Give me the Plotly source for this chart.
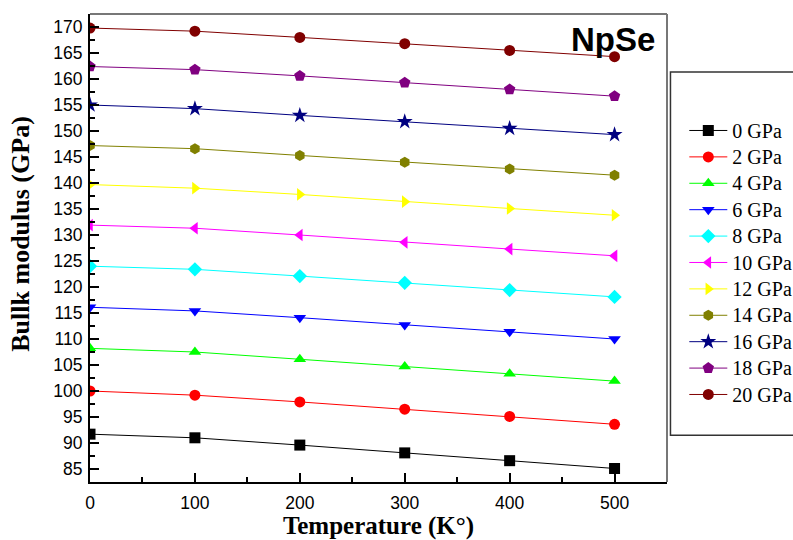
import plotly.graph_objects as go

temperature = [0, 100, 200, 300, 400, 500]
pressures = ["0 GPa", "2 GPa", "4 GPa", "6 GPa", "8 GPa", "10 GPa",
             "12 GPa", "14 GPa", "16 GPa", "18 GPa", "20 GPa"]
b_0 = [91.7, 91.0, 89.6, 88.1, 86.6, 85.1]
b_2 = [100.0, 99.2, 97.9, 96.5, 95.1, 93.6]
b_4 = [108.2, 107.5, 106.1, 104.7, 103.3, 101.9]
b_6 = [116.1, 115.4, 114.1, 112.7, 111.4, 110.0]
b_8 = [124.0, 123.4, 122.1, 120.8, 119.4, 118.1]
b_10 = [131.9, 131.3, 130.0, 128.6, 127.3, 126.0]
b_12 = [139.7, 139.0, 137.8, 136.4, 135.1, 133.8]
b_14 = [147.2, 146.6, 145.3, 144.0, 142.7, 141.5]
b_16 = [155.0, 154.3, 153.0, 151.8, 150.5, 149.3]
b_18 = [162.4, 161.8, 160.6, 159.3, 158.0, 156.7]
b_20 = [169.8, 169.2, 168.0, 166.8, 165.5, 164.3]
series = [b_0, b_2, b_4, b_6, b_8, b_10, b_12, b_14, b_16, b_18, b_20]

colors = ["#000000", "#ff0000", "#00ff00", "#0000ff", "#00ffff", "#ff00ff",
          "#ffff00", "#808000", "#000080", "#800080", "#800000"]
symbols = ["square", "circle", "triangle-up", "triangle-down", "diamond",
           "triangle-left", "triangle-right", "hexagon", "star", "pentagon", "circle"]
sizes = [11, 11, 11, 11, 11, 11, 11, 11, 12, 12, 11]

fig = go.Figure()
for name, vals, c, s, sz in zip(pressures, series, colors, symbols, sizes):
    fig.add_trace(go.Scatter(
        x=temperature, y=vals, name=f'<span style="font-size:20px">{name}</span>',
        mode="lines+markers",
        line=dict(color=c, width=1),
        marker=dict(symbol=s, size=sz, color=c, line=dict(width=0)),
    ))

tick_font = dict(family="Liberation Sans, Arial", size=17.5, color="black")
fig.update_layout(
    width=793, height=540,
    margin=dict(l=90, r=126, t=14, b=58, autoexpand=False),
    paper_bgcolor="white", plot_bgcolor="white",
    showlegend=True,
    legend=dict(x=1.03, xanchor="left", y=0.79, yanchor="top",
                bgcolor="rgba(0,0,0,0)", borderwidth=0, itemwidth=38,
                font=dict(family="Liberation Serif, Times New Roman", size=18, color="black"),
                tracegroupgap=0),
    xaxis=dict(range=[0, 550], tickvals=[0, 100, 200, 300, 400, 500],
               showgrid=False, zeroline=False, showline=True, linecolor="black", linewidth=2,
               ticks="inside", ticklen=9, tickwidth=1.5, tickcolor="black",
               minor=dict(dtick=50, tick0=0, ticks="inside", ticklen=5, tickwidth=1.5, tickcolor="black"),
               tickfont=tick_font, ticklabelstandoff=4,
               title=dict(text="Temperature (K°)", standoff=3,
                          font=dict(family="Liberation Serif, Times New Roman", size=25, color="black", weight="bold"))),
    yaxis=dict(range=[82.5, 172.5], dtick=5, tick0=85,
               showgrid=False, zeroline=False, showline=True, linecolor="black", linewidth=2,
               ticks="inside", ticklen=9, tickwidth=1.5, tickcolor="black",
               minor=dict(dtick=2.5, tick0=82.5, ticks="inside", ticklen=5, tickwidth=1.5, tickcolor="black"),
               tickfont=tick_font, ticklabelstandoff=2),
    shapes=[
        dict(type="line", xref="paper", yref="paper", x0=0, x1=1, y0=1, y1=1,
             line=dict(color="#777777", width=2)),
        dict(type="line", xref="paper", yref="paper", x0=1, x1=1, y0=0, y1=1,
             line=dict(color="#777777", width=2)),
        dict(type="rect", xref="paper", yref="paper", x0=1.006, x1=1.3, y0=0.1, y1=0.876,
             line=dict(color="#333333", width=1.5), fillcolor="rgba(0,0,0,0)"),
    ],
    annotations=[
        dict(text="<b>NpSe</b>", xref="paper", yref="paper", x=0.906, y=0.945,
             xanchor="center", yanchor="middle", showarrow=False,
             font=dict(family="Liberation Sans, Arial", size=33, color="black")),
        dict(text="<b>Bullk modulus (GPa)</b>", xref="paper", yref="paper", x=-0.12, y=0.53,
             xanchor="center", yanchor="middle", textangle=-90, showarrow=False,
             font=dict(family="Liberation Serif, Times New Roman", size=26, color="black")),
    ],
)

fig.write_html("out.html")
